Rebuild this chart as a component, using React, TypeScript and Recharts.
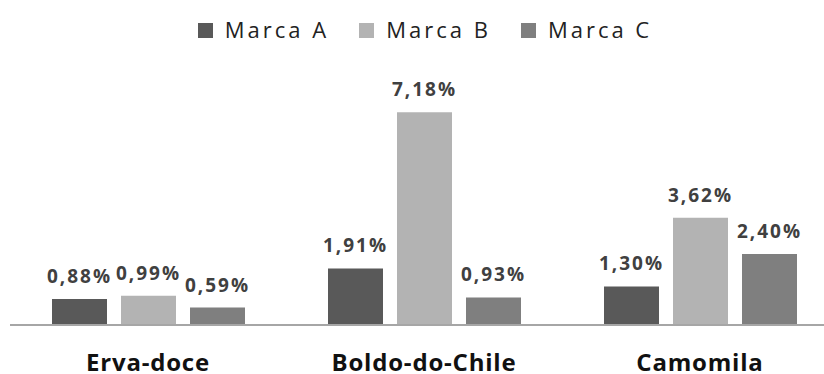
import { Bar, BarChart, LabelList, Legend, XAxis, YAxis } from "recharts"

const categories = ["Erva-doce", "Boldo-do-Chile", "Camomila"]
const marcaA = [0.88, 1.91, 1.3]
const marcaB = [0.99, 7.18, 3.62]
const marcaC = [0.59, 0.93, 2.4]

const seriesNames = ["Marca A", "Marca B", "Marca C"]
const colors = ["#595959", "#b3b3b3", "#7f7f7f"]

const data = categories.map((name, i) => ({
  name,
  a: marcaA[i],
  b: marcaB[i],
  c: marcaC[i]
}))

const fmt = (v: number) => v.toFixed(2).replace(".", ",") + "%"

function LegendRow() {
  return (
    <div
      style={{
        height: 74,
        display: "flex",
        justifyContent: "center",
        paddingLeft: 2,
        fontFamily: "'Open Sans', sans-serif",
        fontSize: 22,
        letterSpacing: 3,
        color: "#222"
      }}
    >
      {seriesNames.map((s, i) => (
        <div key={s} style={{ display: "flex", alignItems: "flex-start", marginRight: i < 2 ? 30 : 0 }}>
          <span style={{ width: 15, height: 15, background: colors[i], marginTop: 9, marginRight: 12 }} />
          <span style={{ lineHeight: "30px" }}>{s}</span>
        </div>
      ))}
    </div>
  )
}

function CategoryTick(props: any) {
  return (
    <text
      x={props.x}
      y={props.y + 38}
      textAnchor="middle"
      fontFamily="'Open Sans', sans-serif"
      fontWeight="bold"
      fontSize={24}
      letterSpacing={0.8}
      fill="#111"
    >
      {props.payload.value}
    </text>
  )
}

function ValueLabel(props: any) {
  const { x, y, width, value } = props
  return (
    <text
      x={x + width / 2}
      y={y - 16}
      textAnchor="middle"
      fontFamily="'Open Sans', sans-serif"
      fontWeight="bold"
      fontSize={19}
      letterSpacing={2}
      fill="#404040"
    >
      {fmt(value)}
    </text>
  )
}

export default function App() {
  return (
    <div style={{ position: "fixed", left: 0, top: 0, width: 824, height: 374, overflow: "hidden", background: "#fff" }}>
      <BarChart
        width={840}
        height={374}
        data={data}
        margin={{ top: 14, right: 2, bottom: 0, left: 10 }}
        barSize={55}
        barGap={14}
      >
        <Legend verticalAlign="top" align="center" content={() => <LegendRow />} />
        <XAxis
          dataKey="name"
          height={49}
          tickLine={false}
          axisLine={{ stroke: "#a6a6a6", strokeWidth: 2 }}
          tick={CategoryTick}
          interval={0}
        />
        <YAxis hide domain={[0, 8]} />
        <Bar dataKey="a" name={seriesNames[0]} fill={colors[0]} isAnimationActive={false}>
          <LabelList dataKey="a" content={ValueLabel} />
        </Bar>
        <Bar dataKey="b" name={seriesNames[1]} fill={colors[1]} isAnimationActive={false}>
          <LabelList dataKey="b" content={ValueLabel} />
        </Bar>
        <Bar dataKey="c" name={seriesNames[2]} fill={colors[2]} isAnimationActive={false}>
          <LabelList dataKey="c" content={ValueLabel} />
        </Bar>
      </BarChart>
    </div>
  )
}
